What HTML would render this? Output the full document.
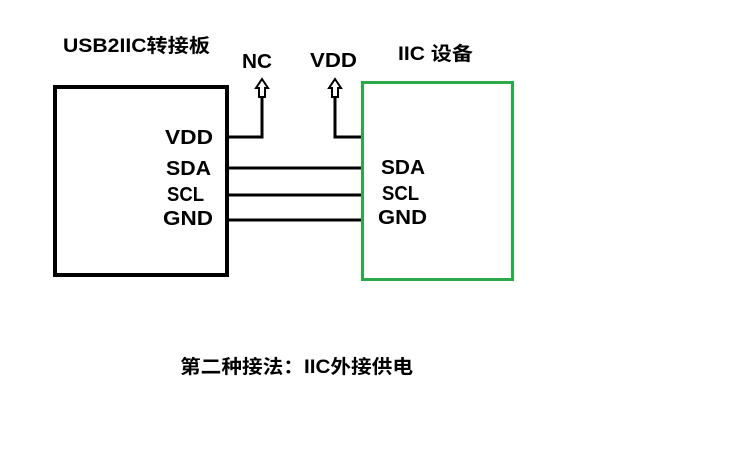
<!DOCTYPE html>
<html><head><meta charset="utf-8"><style>
body{margin:0;width:746px;height:450px;background:#fff;overflow:hidden}
</style></head><body>
<svg width="746" height="450" xmlns="http://www.w3.org/2000/svg" style="position:absolute;left:0;top:0">
<g font-family="Liberation Sans, Noto Sans CJK SC, sans-serif" font-weight="bold" fill="#000" lengthAdjust="spacingAndGlyphs">
<text x="63" y="52" font-size="19" textLength="147" lengthAdjust="spacingAndGlyphs">USB2IIC转接板</text>
<text x="242" y="68" font-size="20" textLength="30" lengthAdjust="spacingAndGlyphs">NC</text>
<text x="310" y="67" font-size="20" textLength="47" lengthAdjust="spacingAndGlyphs">VDD</text>
<text x="398" y="60" font-size="19" textLength="75" lengthAdjust="spacingAndGlyphs">IIC 设备</text>
<text x="165" y="144" font-size="20" textLength="48" lengthAdjust="spacingAndGlyphs">VDD</text>
<text x="166" y="175" font-size="20" textLength="45" lengthAdjust="spacingAndGlyphs">SDA</text>
<text x="167" y="201" font-size="20" textLength="37" lengthAdjust="spacingAndGlyphs">SCL</text>
<text x="163" y="225" font-size="20" textLength="50" lengthAdjust="spacingAndGlyphs">GND</text>
<text x="381" y="174" font-size="20" textLength="44" lengthAdjust="spacingAndGlyphs">SDA</text>
<text x="382" y="200" font-size="20" textLength="37" lengthAdjust="spacingAndGlyphs">SCL</text>
<text x="378" y="224" font-size="20" textLength="49" lengthAdjust="spacingAndGlyphs">GND</text>
<text x="180" y="373" font-size="19" textLength="233" lengthAdjust="spacingAndGlyphs">第二种接法：IIC外接供电</text>
</g>
<rect x="55" y="87" width="172" height="188" fill="none" stroke="#000" stroke-width="4"/>
<rect x="362.5" y="82.5" width="150" height="197" fill="none" stroke="#2aa84a" stroke-width="3"/>
<g stroke="#000" stroke-width="3" fill="none">
<polyline points="229,137 262,137 262,96"/>
<polyline points="361,137 335,137 335,96"/>
<line x1="229" y1="168" x2="361" y2="168"/>
<line x1="229" y1="195" x2="361" y2="195"/>
<line x1="229" y1="220" x2="361" y2="220"/>
</g>
<g stroke="#000" stroke-width="2" fill="#fff">
<polygon points="262,79 268,88 265,88 265,97 259,97 259,88 256,88"/>
<polygon points="335,79 341,88 338,88 338,97 332,97 332,88 329,88"/>
</g>
</svg>
</body></html>
